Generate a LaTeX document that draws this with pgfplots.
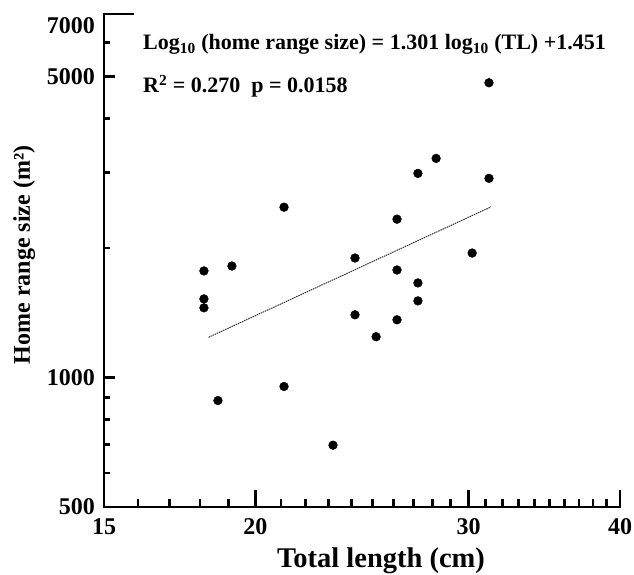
\documentclass[border=0pt]{standalone}
\usepackage{fontspec}
\setmainfont{Liberation Serif}
\usepackage{pgfplots}
\pgfplotsset{compat=1.18}
\newcommand{\tfont}{\fontsize{24}{28}\selectfont\bfseries}
\newcommand{\efont}{\fontsize{22}{26}\selectfont\bfseries}
\begin{document}
\begin{tikzpicture}[x=1pt,y=1pt]
\useasboundingbox (-104,-67) rectangle (530,507);
\begin{axis}[
  at={(0,0)}, anchor=south west,
  scale only axis, width=516pt, height=493pt,
  xmode=log, ymode=log,
  xmin=15, xmax=40, ymin=500, ymax=7000,
  axis x line=bottom, axis y line=left,
  axis line style={-, line width=2.8pt, black, line cap=rect},
  tick align=inside,
  tick style={black, line width=2.8pt},
  major tick length=17pt, minor tick length=8pt,
  xtick={15,20,30,40}, xticklabels={15,20,30,40},
  minor xtick={16,17,18,19,21,22,23,24,25,26,27,28,29,31,32,33,34,35,36,37,38,39},
  ytick={500,1000}, yticklabels={500,1000},
  minor ytick={600,700,800,900,2000,3000,4000,6000},
  extra y ticks={5000}, extra y tick labels={5000},
  ytick style={/pgfplots/major tick length=11pt, /pgfplots/minor tick length=6.5pt},
  extra y tick style={/pgfplots/major tick length=6.5pt},
  xticklabel style={font=\tfont, inner sep=0pt, yshift=-11pt},
  yticklabel style={font=\tfont, inner sep=0pt, xshift=-9pt},
  clip=false,
]
\addplot[only marks, mark=*, mark size=4.4pt, black] coordinates {
  (18.14,1769) (18.14,1523) (18.14,1452) (18.63,884) (19.13,1816)
  (21.12,2488) (21.12,953) (23.18,696) (24.17,1896) (24.17,1399)
  (25.16,1244) (26.18,2334) (26.18,1778) (26.18,1362) (27.24,2982)
  (27.24,1659) (27.24,1507) (28.2,3231) (30.2,1947) (31.18,4844) (31.18,2904)
};
\addplot[black!80, line width=1pt, dash pattern=on 1.5pt off 0.8pt] coordinates {
  (18.3,1240) (31.3,2492)
};
\end{axis}
\draw[line width=2.8pt, black] (0,493) -- (30,493);
\node[anchor=east, inner sep=0pt, font=\tfont] at (-9,481) {7000};
\node[anchor=base west, inner sep=0pt, font=\efont] at (39,457)
  {Log\textsubscript{10} (home range size) = 1.301 log\textsubscript{10} (TL) +1.451};
\node[anchor=base west, inner sep=0pt, font=\efont] at (39,414)
  {R\textsuperscript{2} = 0.270\ \ p = 0.0158};
\node[anchor=base, inner sep=0pt, font=\fontsize{28.5}{33}\selectfont\bfseries] at (277,-60)
  {Total length (cm)};
\node[anchor=base, rotate=90, inner sep=0pt, font=\fontsize{24}{29}\selectfont\bfseries] at (-74,252)
  {Home range size (m²)};
\end{tikzpicture}
\end{document}
